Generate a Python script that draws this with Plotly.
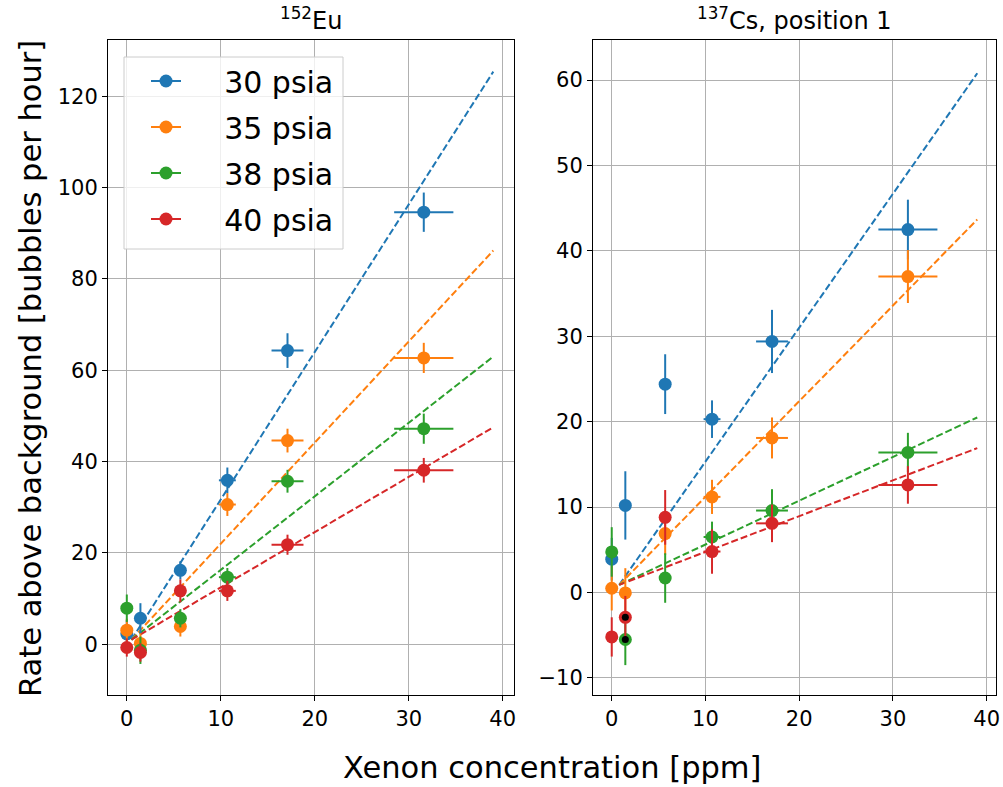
import plotly.graph_objects as go

# ---------------- data ----------------
series_names = ["30 psia", "35 psia", "38 psia", "40 psia"]
series_colors = ["#1f77b4", "#ff7f0e", "#2ca02c", "#d62728"]

x_conc = [0, 1.45, 5.7, 10.7, 17.1, 31.6]
x_err = [0, 0.15, 0.5, 0.9, 1.7, 3.15]

# 152Eu panel
eu_30 = [2.3, 5.7, 16.2, 35.9, 64.3, 94.6]
eu_35 = [3.1, 0.2, 3.9, 30.6, 44.6, 62.7]
eu_38 = [7.9, -1.3, 5.7, 14.7, 35.7, 47.2]
eu_40 = [-0.7, -1.8, 11.7, 11.7, 21.8, 38.1]
eu_30_err = [3.0, 3.3, 2.0, 2.8, 3.8, 4.3]
eu_35_err = [2.5, 2.2, 2.2, 2.5, 2.6, 3.3]
eu_38_err = [3.0, 3.0, 2.0, 2.0, 2.5, 3.3]
eu_40_err = [2.0, 2.0, 2.5, 2.2, 2.2, 2.7]
eu_slope = [3.23, 2.213, 1.61, 1.208]
eu_intercept = [-0.6, -0.1, 0.2, 0.4]
eu_fit_range = [0.5, 39]

# 137Cs position 1 panel
cs_30 = [3.9, 10.2, 24.4, 20.3, 29.4, 42.5]
cs_35 = [0.5, -0.05, 6.9, 11.2, 18.1, 37.0]
cs_38 = [4.75, -5.5, 1.7, 6.5, 9.6, 16.4]
cs_40 = [-5.2, -2.9, 8.8, 4.8, 8.1, 12.6]
cs_30_err = [2.5, 4.0, 3.5, 2.2, 3.7, 3.5]
cs_35_err = [2.6, 2.9, 2.5, 2.0, 2.4, 3.1]
cs_38_err = [2.9, 3.0, 2.9, 1.8, 2.5, 2.3]
cs_40_err = [2.3, 2.5, 3.2, 2.6, 2.2, 2.2]
cs_slope = [1.568, 1.120, 0.513, 0.419]
cs_intercept = [-0.35, 0.0, 0.49, 0.565]
cs_fit_range = [0.8, 39]
# points drawn with a black centre (series index, point index)
cs_flagged = [(2, 1), (3, 1)]

eu_vals = [eu_30, eu_35, eu_38, eu_40]
eu_errs = [eu_30_err, eu_35_err, eu_38_err, eu_40_err]
cs_vals = [cs_30, cs_35, cs_38, cs_40]
cs_errs = [cs_30_err, cs_35_err, cs_38_err, cs_40_err]

# ---------------- figure ----------------
W, H = 1003, 787
FONT = "DejaVu Sans"
NBSP = "\u00a0"
fig = go.Figure()


def add_panel(vals, errs, slopes, intercepts, fit_range, xa, ya):
    # fit lines
    for i in range(4):
        fx = list(fit_range)
        fy = [slopes[i] * v + intercepts[i] for v in fx]
        fig.add_trace(go.Scatter(
            x=fx, y=fy, mode="lines", xaxis=xa, yaxis=ya,
            line=dict(color=series_colors[i], width=2, dash="7px,3px"),
            showlegend=False, hoverinfo="skip"))
    # data
    for i in range(4):
        fig.add_trace(go.Scatter(
            x=x_conc, y=vals[i], mode="markers", xaxis=xa, yaxis=ya,
            marker=dict(color=series_colors[i], size=13),
            error_y=dict(type="data", array=errs[i], color=series_colors[i],
                         thickness=2, width=0),
            error_x=dict(type="data", array=x_err, color=series_colors[i],
                         thickness=2, width=0),
            name=series_names[i], showlegend=False))


add_panel(eu_vals, eu_errs, eu_slope, eu_intercept, eu_fit_range, "x", "y")
add_panel(cs_vals, cs_errs, cs_slope, cs_intercept, cs_fit_range, "x2", "y2")

# black centres
fig.add_trace(go.Scatter(
    x=[x_conc[j] for s, j in cs_flagged],
    y=[cs_vals[s][j] for s, j in cs_flagged],
    mode="markers", xaxis="x2", yaxis="y2",
    marker=dict(color="black", size=7),
    showlegend=False, hoverinfo="skip"))

# legend entries
for i in range(4):
    fig.add_trace(go.Scatter(
        x=[None], y=[None], mode="lines+markers", xaxis="x", yaxis="y",
        marker=dict(color=series_colors[i], size=13),
        line=dict(color=series_colors[i], width=2),
        name=NBSP * 4 + series_names[i], legendgroup=series_names[i],
        showlegend=True))

axis_common = dict(
    showline=True, linecolor="black", linewidth=1, mirror=True,
    ticks="outside", ticklen=5, tickwidth=1, tickcolor="black",
    showgrid=True, gridcolor="#b0b0b0", gridwidth=1, zeroline=False,
    tickfont=dict(family=FONT, size=21, color="black"),
    automargin=False,
)

fig.update_layout(
    width=W, height=H,
    margin=dict(l=0, r=0, t=0, b=0),
    paper_bgcolor="white", plot_bgcolor="white",
    font=dict(family=FONT, color="black"),
    xaxis=dict(domain=[108 / W, 514 / W], range=[-2.0, 41.2],
               tickvals=[0, 10, 20, 30, 40], anchor="y", **axis_common),
    yaxis=dict(domain=[(H - 695) / H, (H - 40) / H], range=[-11.1, 132.3],
               tickvals=[0, 20, 40, 60, 80, 100, 120], anchor="x", **axis_common),
    xaxis2=dict(domain=[593 / W, 996 / W], range=[-2.0, 41.0],
                tickvals=[0, 10, 20, 30, 40], anchor="y2", **axis_common),
    yaxis2=dict(domain=[(H - 695) / H, (H - 40) / H], range=[-12.0, 64.7],
                tickvals=[-10, 0, 10, 20, 30, 40, 50, 60],
                ticktext=["\u221210", "0", "10", "20", "30", "40", "50", "60"],
                anchor="x2", **axis_common),
    legend=dict(
        x=146 / W, y=(H - 55) / H, xanchor="left", yanchor="top",
        bgcolor="rgba(0,0,0,0)", borderwidth=0,
        font=dict(family=FONT, size=30, color="black"),
        tracegroupgap=4, itemwidth=30,
    ),
    shapes=[
        # legend frame
        dict(type="rect", xref="paper", yref="paper",
             x0=124 / W, x1=343 / W, y0=(H - 249) / H, y1=(H - 57) / H,
             fillcolor="rgba(255,255,255,0.8)", line=dict(color="#cccccc", width=1),
             layer="above"),
    ],
    annotations=[
        dict(text="<sup>152</sup>Eu", x=(108 + 514) / 2 / W, y=(H - 37) / H,
             xref="paper", yref="paper", showarrow=False, xanchor="center",
             yanchor="bottom", font=dict(family=FONT, size=24, color="black")),
        dict(text="<sup>137</sup>Cs, position 1", x=(593 + 996) / 2 / W, y=(H - 37) / H,
             xref="paper", yref="paper", showarrow=False, xanchor="center",
             yanchor="bottom", font=dict(family=FONT, size=24, color="black")),
        dict(text="Rate above background [bubbles per hour]", x=30 / W, y=(H - 369) / H,
             xref="paper", yref="paper", showarrow=False, textangle=-90,
             xanchor="center", yanchor="middle",
             font=dict(family=FONT, size=30.5, color="black")),
        dict(text="Xenon concentration [ppm]", x=552 / W, y=(H - 767) / H,
             xref="paper", yref="paper", showarrow=False,
             xanchor="center", yanchor="middle",
             font=dict(family=FONT, size=30.5, color="black")),
    ],
)

fig.write_html(
    "out.html",
    config={"displayModeBar": False},
    post_script="document.body.style.margin='0';document.body.style.overflow='hidden';",
)
